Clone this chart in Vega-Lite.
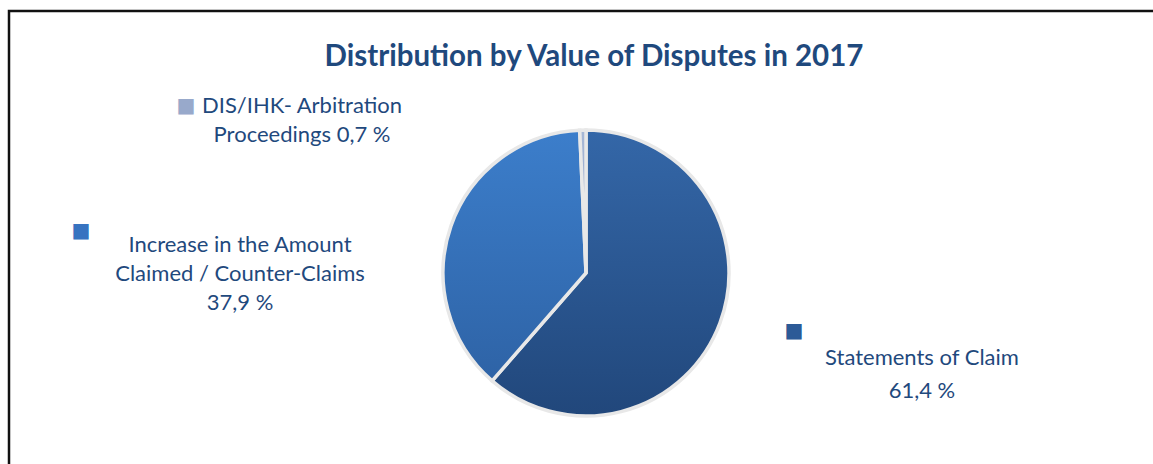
{
  "$schema": "https://vega.github.io/schema/vega-lite/v6.json",
  "width": 1154,
  "height": 524,
  "autosize": {"type": "none"},
  "padding": {"left": 9, "top": 11, "right": 0, "bottom": 0},
  "background": "white",
  "view": {"stroke": "#111111", "strokeWidth": 2.5, "fill": "white"},
  "config": {
    "view": {"stroke": "#111111", "strokeWidth": 2.5},
    "text": {"font": "Lato"}
  },
  "title": {
    "text": "Distribution by Value of Disputes in 2017",
    "font": "Lato",
    "fontSize": 29.5,
    "fontWeight": "bold",
    "color": "#1f497d",
    "offset": -84,
    "baseline": "alphabetic",
    "anchor": "middle",
    "frame": "group",
    "dx": 8
  },
  "data": {
    "values": [
      {"category": "S", "value": 61.4, "label": "Statements of Claim\n61,4 %"},
      {"category": "I", "value": 37.9, "label": "Increase in the Amount\nClaimed / Counter-Claims\n37,9 %"},
      {"category": "D", "value": 0.7, "label": "DIS/IHK- Arbitration\nProceedings 0,7 %"}
    ]
  },
  "encoding": {
    "theta": {"field": "value", "type": "quantitative", "stack": true},
    "order": {"field": "category", "type": "nominal", "sort": "descending"}
  },
  "layer": [
    {
      "mark": {"type": "arc", "radius": 143, "stroke": "#e8e8e8", "strokeWidth": 3.5},
      "encoding": {
        "detail": {"field": "category", "type": "nominal"},
        "fill": {
          "condition": [
            {"test": {"field": "category", "equal": "S"}, "value": {"gradient": "linear", "x1": 0, "y1": 0, "x2": 0, "y2": 1, "stops": [{"offset": 0, "color": "#3467a8"}, {"offset": 1, "color": "#21477b"}]}},
            {"test": {"field": "category", "equal": "I"}, "value": {"gradient": "linear", "x1": 0, "y1": 0, "x2": 0, "y2": 1, "stops": [{"offset": 0, "color": "#3c7ecb"}, {"offset": 1, "color": "#2e63a6"}]}}
          ],
          "value": {"gradient": "linear", "x1": 0, "y1": 0, "x2": 0, "y2": 1, "stops": [{"offset": 0, "color": "#a7b8d6"}, {"offset": 1, "color": "#8799c2"}]}
        }
      }
    },
    {
      "mark": {"type": "text", "radius": 150, "dx": 195.5, "dy": 39.4, "align": "center", "baseline": "alphabetic", "fontSize": 22, "lineBreak": "\n", "lineHeight": 33, "color": "#1f497d"},
      "encoding": {
        "text": {"condition": {"test": {"field": "category", "equal": "S"}, "field": "label", "type": "nominal"}, "value": ""}
      }
    },
    {
      "mark": {"type": "text", "radius": 150, "dx": -204.4, "dy": 28.5, "align": "center", "baseline": "alphabetic", "fontSize": 22, "lineBreak": "\n", "lineHeight": 29, "color": "#1f497d"},
      "encoding": {
        "text": {"condition": {"test": {"field": "category", "equal": "I"}, "field": "label", "type": "nominal"}, "value": ""}
      }
    },
    {
      "mark": {"type": "text", "radius": 150, "dx": -280.7, "dy": -10, "align": "center", "baseline": "alphabetic", "fontSize": 22, "lineBreak": "\n", "lineHeight": 29, "color": "#1f497d"},
      "encoding": {
        "text": {"condition": {"test": {"field": "category", "equal": "D"}, "field": "label", "type": "nominal"}, "value": ""}
      }
    },
    {
      "mark": {"type": "text", "radius": 150, "dx": 67.5, "dy": 5.4, "align": "center", "baseline": "middle", "font": "DejaVu Sans", "fontSize": 20, "fill": "#2c5a97"},
      "encoding": {
        "text": {"condition": {"test": {"field": "category", "equal": "S"}, "value": "■"}, "value": ""}
      }
    },
    {
      "mark": {"type": "text", "radius": 150, "dx": -363.4, "dy": 7, "align": "center", "baseline": "middle", "font": "DejaVu Sans", "fontSize": 20, "fill": "#3773c0"},
      "encoding": {
        "text": {"condition": {"test": {"field": "category", "equal": "I"}, "value": "■"}, "value": ""}
      }
    },
    {
      "mark": {"type": "text", "radius": 150, "dx": -396.7, "dy": -17, "align": "center", "baseline": "middle", "font": "DejaVu Sans", "fontSize": 20, "fill": "#98a9cb"},
      "encoding": {
        "text": {"condition": {"test": {"field": "category", "equal": "D"}, "value": "■"}, "value": ""}
      }
    }
  ]
}
